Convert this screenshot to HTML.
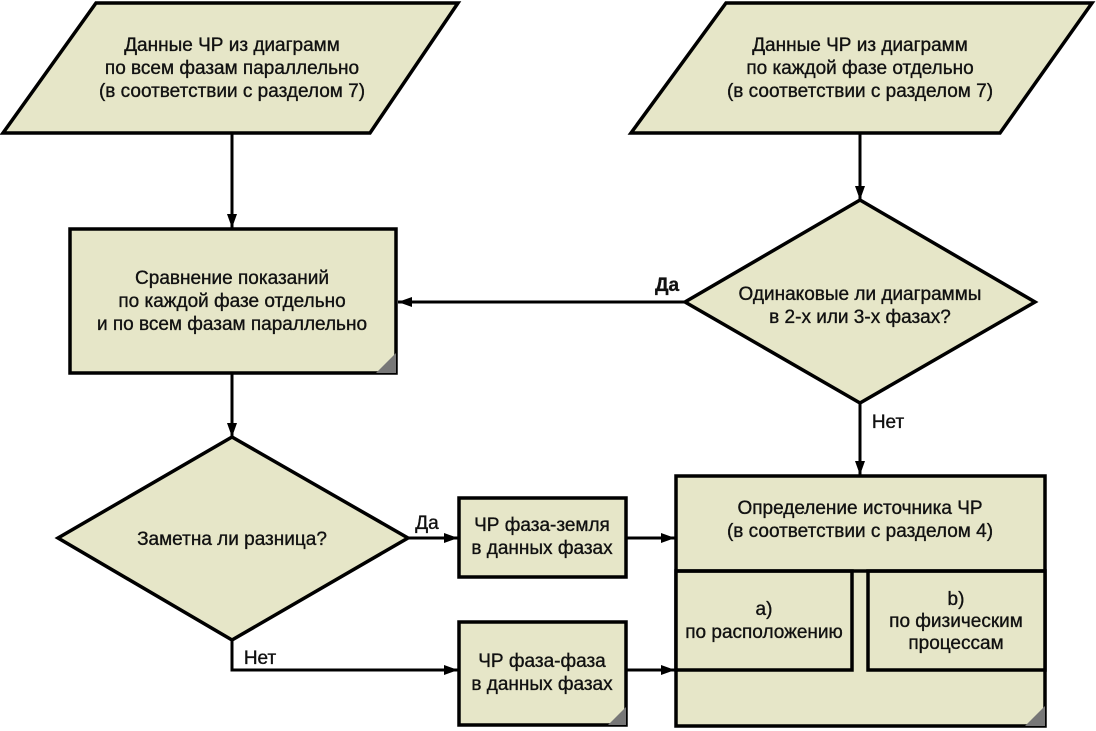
<!DOCTYPE html>
<html><head><meta charset="utf-8"><style>
html,body{margin:0;padding:0;background:#fff;}
svg{display:block;}
text{font-family:"Liberation Sans",Arial,sans-serif;font-size:19px;fill:#111;text-anchor:middle;stroke:#111;stroke-width:0.35;}
.s{fill:#e6e6c8;stroke:#000;stroke-width:3.5;stroke-linejoin:miter;}
.l{stroke:#000;stroke-width:3;fill:none;}
.c{fill:#777;stroke:none;}
</style></head><body>
<svg width="1096" height="731" viewBox="0 0 1096 731">
<defs>
<marker id="b" markerWidth="14" markerHeight="12" refX="14" refY="6" orient="auto" markerUnits="userSpaceOnUse"><path d="M0,1 L14,6 L0,11 Z" fill="#000"/></marker></defs>

<polygon class="s" points="96,3 458,3 370,133 3,133"/>
<text x="232" y="51">Данные ЧР из диаграмм</text>
<text x="232" y="74">по всем фазам параллельно</text>
<text x="232" y="97">(в соответствии с разделом 7)</text>
<polygon class="s" points="726,3 1092,3 1000,133 631,133"/>
<text x="860" y="51">Данные ЧР из диаграмм</text>
<text x="860" y="74">по каждой фазе отдельно</text>
<text x="860" y="97">(в соответствии с разделом 7)</text>

<line class="l" x1="232" y1="133" x2="232" y2="228" marker-end="url(#b)"/>
<line class="l" x1="860" y1="133" x2="860" y2="200" marker-end="url(#b)"/>

<rect class="s" x="70" y="229" width="326" height="144"/>
<polygon class="c" points="396,353 396,373 376,373"/>
<text x="232" y="284">Сравнение показаний</text>
<text x="232" y="307">по каждой фазе отдельно</text>
<text x="232" y="330">и по всем фазам параллельно</text>

<polygon class="s" points="860,200 1035,302 860,403 685,302"/>
<text x="860" y="300">Одинаковые ли диаграммы</text>
<text x="860" y="323">в 2-х или 3-х фазах?</text>
<line class="l" x1="685" y1="302" x2="398" y2="302" marker-end="url(#b)"/>
<text x="667" y="291" style="font-weight:bold">Да</text>
<line class="l" x1="860" y1="403" x2="860" y2="475" marker-end="url(#b)"/>
<text x="888" y="428">Нет</text>

<line class="l" x1="232" y1="373" x2="232" y2="437" marker-end="url(#b)"/>

<polygon class="s" points="232,437 408,538 232,640 58,538"/>
<text x="232" y="545">Заметна ли разница?</text>
<line class="l" x1="408" y1="538" x2="458" y2="538" marker-end="url(#b)"/>
<text x="427" y="529">Да</text>
<polyline class="l" points="232,640 232,670 458,670" marker-end="url(#b)"/>
<text x="260" y="664">Нет</text>

<rect class="s" x="459" y="498" width="167" height="79"/>
<text x="542" y="531">ЧР фаза-земля</text>
<text x="542" y="554">в данных фазах</text>
<rect class="s" x="459" y="622" width="167" height="103"/>
<polygon class="c" points="626,707 626,725 608,725"/>
<text x="542" y="667">ЧР фаза-фаза</text>
<text x="542" y="690">в данных фазах</text>
<line class="l" x1="626" y1="538" x2="675" y2="538" marker-end="url(#b)"/>
<line class="l" x1="626" y1="670" x2="675" y2="670" marker-end="url(#b)"/>

<rect class="s" x="676" y="476" width="369" height="250"/>
<polygon class="c" points="1045,706 1045,726 1025,726"/>
<text x="860" y="514">Определение источника ЧР</text>
<text x="860" y="537">(в соответствии с разделом 4)</text>
<rect class="s" x="676" y="571" width="176" height="99"/>
<rect class="s" x="868" y="571" width="177" height="99"/>
<line class="l" x1="676" y1="571" x2="1045" y2="571" style="stroke-width:3.5"/>
<text x="764" y="615">a)</text>
<text x="764" y="638">по расположению</text>
<text x="956" y="605">b)</text>
<text x="956" y="627">по физическим</text>
<text x="956" y="649">процессам</text>
</svg>
</body></html>
